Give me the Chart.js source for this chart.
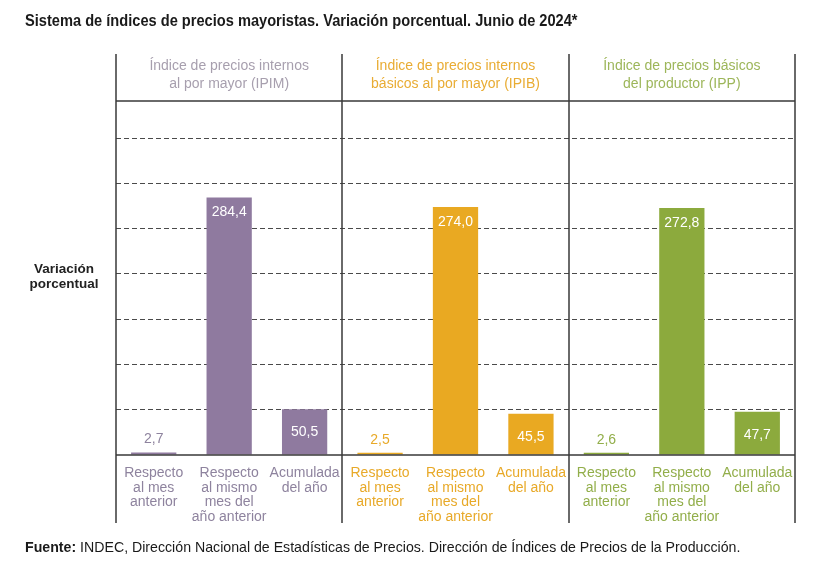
<!DOCTYPE html>
<html><head><meta charset="utf-8">
<script src="https://cdn.jsdelivr.net/npm/chart.js@4"></script>
<style>
html,body{margin:0;padding:0;background:#fff;}
#wrap{position:relative;width:822px;height:562px;overflow:hidden;font-family:"Liberation Sans",Arial,sans-serif;}
canvas{position:absolute;left:0;top:0;}
#title{position:absolute;left:25px;top:11px;font-weight:bold;font-size:17px;color:#1a1a1a;white-space:nowrap;transform:scaleX(0.86);transform-origin:0 0;}
#foot{position:absolute;left:25px;top:538px;font-size:15px;color:#1a1a1a;white-space:nowrap;transform:scaleX(0.944);transform-origin:0 0;}
#ylab{position:absolute;left:24px;top:261px;width:80px;text-align:center;font-weight:bold;font-size:13.5px;line-height:15px;color:#222;}
.hdr{position:absolute;top:56px;width:220px;text-align:center;font-size:14px;line-height:18px;white-space:nowrap;}
</style></head>
<body><div id="wrap">
<canvas id="c" width="822" height="562"></canvas>
<div id="title">Sistema de índices de precios mayoristas. Variación porcentual. Junio de 2024*</div>
<div id="ylab">Variación<br>porcentual</div>
<div id="foot"><b>Fuente:</b> INDEC, Dirección Nacional de Estadísticas de Precios. Dirección de Índices de Precios de la Producción.</div>
</div>
<script>
// ---- data ----
const panelTitles = [
  ["Índice de precios internos", "al por mayor (IPIM)"],
  ["Índice de precios internos", "básicos al por mayor (IPIB)"],
  ["Índice de precios básicos", "del productor (IPP)"]
];
const categories = [
  ["Respecto", "al mes", "anterior"],
  ["Respecto", "al mismo", "mes del", "año anterior"],
  ["Acumulada", "del año"]
];
const ipim = [2.7, 284.4, 50.5];
const ipib = [2.5, 274.0, 45.5];
const ipp  = [2.6, 272.8, 47.7];
const yStep = 50;
const yMax = 391;

const barColors  = ["#8f7a9f", "#e9a922", "#8caa3d"];
const textColors = ["#8e839e", "#e8a928", "#92ae4a"];
const hdrColors  = ["#a79fae", "#e9ac33", "#9db65a"];

const series = [ipim, ipib, ipp];
const labels = [], values = [], colors = [], tcolors = [];
series.forEach((s, p) => s.forEach((v, i) => {
  labels.push(categories[i]); values.push(v); colors.push(barColors[p]); tcolors.push(textColors[p]);
}));

const fmt = v => v.toFixed(1).replace('.', ',');

const framePlugin = {
  id: 'frame',
  afterDatasetsDraw(chart) {
    const ctx = chart.ctx, a = chart.chartArea, x = chart.scales.x;
    const half = (x.getPixelForValue(1) - x.getPixelForValue(0)) / 2;
    ctx.save();
    ctx.strokeStyle = '#3a3a3a';
    ctx.lineWidth = 1.5;
    ctx.beginPath();
    ctx.moveTo(a.left, a.top); ctx.lineTo(a.right, a.top);
    ctx.moveTo(a.left, a.bottom); ctx.lineTo(a.right, a.bottom);
    for (let p = 0; p <= 3; p++) {
      const px = Math.round(p < 3 ? x.getPixelForValue(p * 3) - half : x.getPixelForValue(8) + half);
      ctx.moveTo(px, a.top - 47); ctx.lineTo(px, a.bottom + 68);
    }
    ctx.stroke();
    // value labels
    const meta = chart.getDatasetMeta(0);
    ctx.font = '14px "Liberation Sans", Arial, sans-serif';
    ctx.textAlign = 'center'; ctx.textBaseline = 'middle';
    meta.data.forEach((bar, i) => {
      const v = values[i];
      if (v < 10) {
        ctx.fillStyle = tcolors[i];
        ctx.fillText(fmt(v), bar.x, bar.y - 13);
      } else {
        ctx.fillStyle = '#ffffff';
        ctx.fillText(fmt(v), bar.x, bar.y + (v > 100 ? 15 : 23));
      }
    });
    ctx.restore();
  }
};

const chart = new Chart(document.getElementById('c'), {
  type: 'bar',
  data: { labels: labels, datasets: [{ data: values, backgroundColor: colors, barPercentage: 0.6, categoryPercentage: 1.0 }] },
  options: {
    responsive: false, animation: false,
    layout: { padding: { left: 116, right: 27, top: 101, bottom: 22 } },
    plugins: { legend: { display: false }, tooltip: { enabled: false } },
    scales: {
      x: {
        grid: { display: false },
        border: { display: false },
        afterFit: s => { s.height = 85; },
        ticks: {
          maxRotation: 0, autoSkip: false, padding: 3,
          font: { family: '"Liberation Sans", Arial, sans-serif', size: 14, lineHeight: 1.04 },
          color: c => tcolors[c.index]
        }
      },
      y: {
        min: 0, max: yMax,
        afterFit: s => { s.width = 0; },
        ticks: { display: false, stepSize: yStep },
        border: { display: false, dash: [5, 3] },
        grid: {
          drawTicks: false, lineWidth: 1,
          color: c => (c.tick && c.tick.value > 0 && c.tick.value % yStep === 0) ? '#4a4a4a' : 'rgba(0,0,0,0)'
        }
      }
    }
  },
  plugins: [framePlugin]
});

// panel headers
const wrap = document.getElementById('wrap');
panelTitles.forEach((t, p) => {
  const d = document.createElement('div');
  d.className = 'hdr';
  d.style.color = hdrColors[p];
  d.style.left = (chart.scales.x.getPixelForValue(p * 3 + 1) - 110) + 'px';
  d.innerHTML = t.join('<br>');
  wrap.appendChild(d);
});
</script>
</body></html>
